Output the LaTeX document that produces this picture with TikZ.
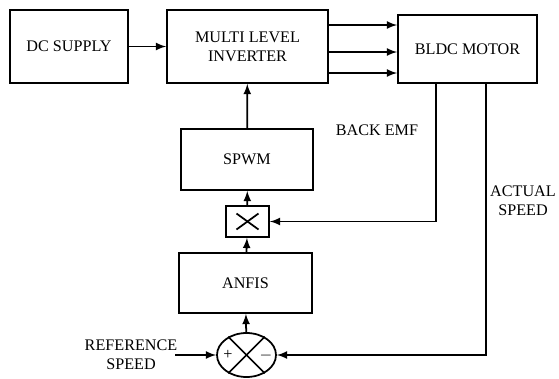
\documentclass[tikz,border=0pt]{standalone}
\usepackage{fontspec}
\setmainfont{Liberation Serif}
\usetikzlibrary{calc,shapes.geometric}
\tikzset{
  blk/.style={draw,line width=1pt,align=center,inner sep=0pt},
  lbl/.style={align=center,inner sep=0pt},
  >=latex
}
\begin{document}
\begin{tikzpicture}[x=0.02cm,y=-0.02cm,line width=1pt,font=\fontsize{9.2}{11}\selectfont]
              \useasboundingbox (0,0) rectangle (559,379);
              \node[blk,minimum width=2.36cm,minimum height=1.46cm] (dc) at (69,46.5) {DC SUPPLY};
              \node[blk,minimum width=3.22cm,minimum height=1.46cm] (mli) at (247.5,46.5) {MULTI LEVEL\\INVERTER};
              \node[blk,minimum width=2.78cm,minimum height=1.36cm] (bldc) at (467.5,49) {BLDC MOTOR};
              \node[blk,minimum width=2.64cm,minimum height=1.22cm] (spwm) at (247,159.5) {SPWM};
              \node[blk,minimum width=0.86cm,minimum height=0.62cm] (mult) at (247.5,221.5) {};
              \node[blk,minimum width=2.66cm,minimum height=1.2cm] (anfis) at (245.5,283) {ANFIS};
              \node[blk,ellipse,minimum width=1.18cm,minimum height=0.88cm] (sum) at (246.5,355) {};
              \node[lbl] (emf) at (377,130) {BACK EMF};
              \node[lbl] (act) at (523,201) {ACTUAL\\SPEED};
              \node[lbl] (ref) at (131,355) {REFERENCE\\SPEED};
              \node[lbl] (plus) at (228,355) {+};
              \node[lbl] (minus) at (266,356) {$-$};
              \coordinate (refin) at (175,355);
              % cross marks
              \draw ($(mult.center)+(-11,-8)$) -- ($(mult.center)+(11,8)$);
              \draw ($(mult.center)+(-11,8)$) -- ($(mult.center)+(11,-8)$);
              \draw (sum.45) -- (sum.225);
              \draw (sum.135) -- (sum.315);
              % forward path
              \draw[->] (dc) -- (mli);
              \foreach \d in {-21.5,5.5,26.5}
                \draw[->] ($(mli.east)+(0,\d)$) coordinate (s) -- (s -| bldc.west);
              \draw[->] (spwm) -- (mli);
              \draw[->] (mult) -- (spwm);
              \draw[->] (anfis) -- (mult);
              \draw[->] (sum) -- (anfis);
              \draw[->] (refin) -- (sum.west);
              % feedback
              \draw[->] ($(bldc.south)+(-31.5,0)$) |- (mult.east);
              \draw[->] ($(bldc.south)+(18.5,0)$) |- (sum.east);
        \end{tikzpicture}
\end{document}
